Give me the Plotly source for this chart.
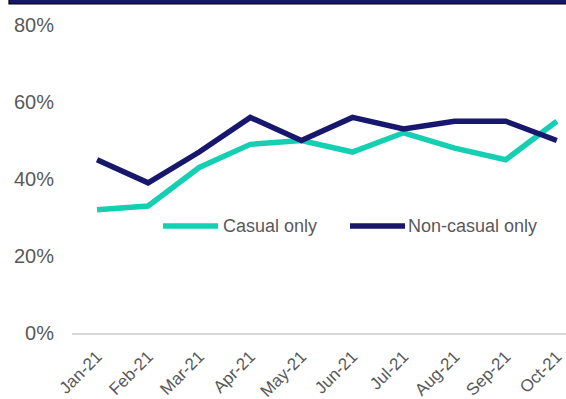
import plotly.graph_objects as go

# Monthly share of respondents, 2021
months = ["Jan-21", "Feb-21", "Mar-21", "Apr-21", "May-21",
          "Jun-21", "Jul-21", "Aug-21", "Sep-21", "Oct-21"]
casual_only = [32, 33, 43, 49, 50, 47, 52, 48, 45, 55]
non_casual_only = [45, 39, 47, 56, 50, 56, 53, 55, 55, 50]

y_ticks = [0, 20, 40, 60, 80]
y_tick_labels = ["0%", "20%", "40%", "60%", "80%"]

series_names = ["Casual only", "Non-casual only"]
TEAL = "#14cfb2"
NAVY = "#17176e"
GREY = "#595959"
FONT = "Arial, Liberation Sans, sans-serif"

W, H = 566, 399
M_L, M_R, M_T, M_B = 72, 0, 25, 66
PW, PH = W - M_L - M_R, H - M_T - M_B

fig = go.Figure()
for name, vals, col in [(series_names[0], casual_only, TEAL),
                        (series_names[1], non_casual_only, NAVY)]:
    fig.add_trace(go.Scatter(
        x=list(range(len(months))), y=vals, name=name, mode="lines",
        line=dict(color=col, width=5.5), showlegend=False,
    ))


def px_x(p):
    return (p - M_L) / PW


def px_y(p):
    return (H - M_B - p) / PH


shapes = []
annotations = []

# banner strip along the top edge
shapes.append(dict(type="rect", xref="paper", yref="paper",
                   x0=px_x(9), x1=px_x(580), y0=px_y(4), y1=px_y(-10),
                   fillcolor="#16166b", line=dict(color="#000000", width=1.2)))

# legend keys drawn inside the plot area
legend_y = px_y(226)
for (lx0, lx1, tx), name, col in zip([(163, 218, 221), (350, 405, 406)],
                                     series_names, [TEAL, NAVY]):
    shapes.append(dict(type="line", xref="paper", yref="paper",
                       x0=px_x(lx0), x1=px_x(lx1), y0=legend_y, y1=legend_y,
                       line=dict(color=col, width=5.5)))
    annotations.append(dict(xref="paper", yref="paper", x=px_x(tx), y=legend_y,
                            text=name, showarrow=False, xanchor="left",
                            yanchor="middle",
                            font=dict(family=FONT, size=18, color=GREY)))

fig.update_layout(
    width=W, height=H,
    margin=dict(l=M_L, r=M_R, t=M_T, b=M_B, autoexpand=False),
    paper_bgcolor="white", plot_bgcolor="white",
    shapes=shapes, annotations=annotations,
    font=dict(family=FONT, color=GREY),
    xaxis=dict(
        tickmode="array", tickvals=list(range(len(months))), ticktext=months,
        range=[-0.49, 9.18], tickangle=-45, showgrid=False, zeroline=False,
        showline=True, linecolor="#d9d9d9", linewidth=2, automargin=False,
        tickfont=dict(family=FONT, size=17, color=GREY), ticks="",
        ticklabelstandoff=5,
    ),
    yaxis=dict(
        range=[0, 80], tickmode="array", tickvals=y_ticks,
        ticktext=y_tick_labels, automargin=False,
        showgrid=False, zeroline=False, showline=False, ticks="",
        tickfont=dict(family=FONT, size=20, color=GREY),
        ticklabelstandoff=17,
    ),
)

fig.write_html("out.html")
